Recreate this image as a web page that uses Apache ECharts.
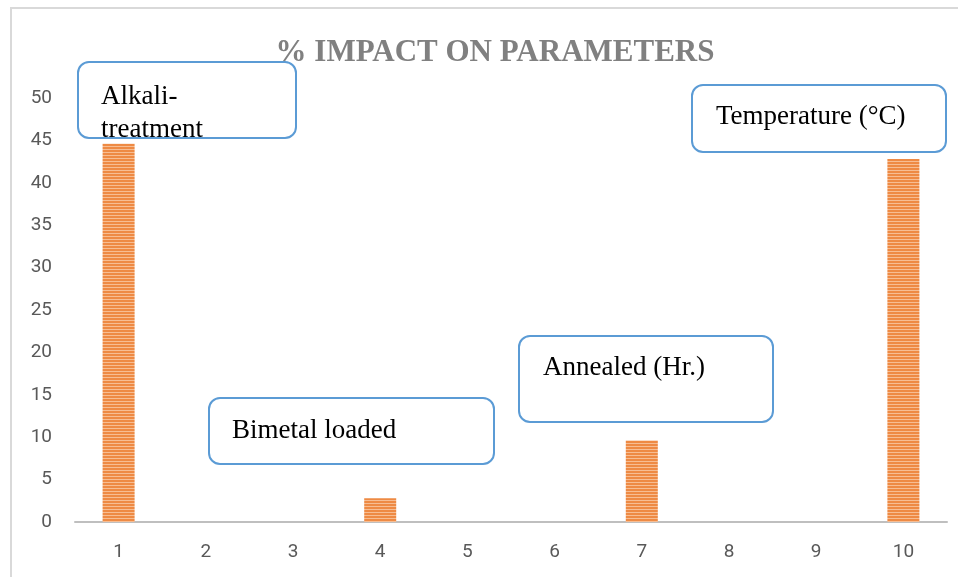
<!DOCTYPE html>
<html>
<head>
<meta charset="utf-8">
<script src="https://cdn.jsdelivr.net/npm/echarts@6/dist/echarts.min.js"></script>
<style>
html,body{margin:0;padding:0;background:#fff;}
#chart{width:958px;height:577px;}
</style>
</head>
<body>
<div id="chart"></div>
<script>
// ---- data ----
const categories = ['1','2','3','4','5','6','7','8','9','10'];
const impactValues = [44.6, 0, 0, 2.8, 0, 0, 9.6, 0, 0, 42.8];
const yTicks = [0, 5, 10, 15, 20, 25, 30, 35, 40, 45, 50];
const titleText = '% IMPACT ON PARAMETERS';
const calloutTexts = ['Alkali-\ntreatment', 'Bimetal loaded', 'Annealed (Hr.)', 'Temperature (°C)'];

// striped orange fill
const pc = document.createElement('canvas');
pc.width = 4; pc.height = 3;
const pctx = pc.getContext('2d');
pctx.fillStyle = '#ee8a44';
pctx.fillRect(0, 0, 4, 3);
pctx.fillStyle = '#f7bd92';
pctx.fillRect(0, 2, 4, 1);

const chart = echarts.init(document.getElementById('chart'), null, {renderer: 'canvas'});

const boxStyle = {fill: '#fff', stroke: '#5b9bd5', lineWidth: 2};
const boxFont = {fontFamily: 'Liberation Serif', fontSize: 27, fill: '#000'};

function callout(x, y, w, h, text, tx, ty) {
  return {
    type: 'group',
    z: 100,
    children: [
      {type: 'rect', shape: {x: x, y: y, width: w, height: h, r: 11}, style: boxStyle},
      {type: 'text', x: tx, y: ty, style: Object.assign({text: text, textVerticalAlign: 'middle'}, boxFont)}
    ]
  };
}

chart.setOption({
  animation: false,
  backgroundColor: '#fff',
  title: {
    text: titleText,
    left: 490,
    textAlign: 'center',
    top: 32,
    textStyle: {fontFamily: 'Liberation Serif', fontWeight: 'bold', fontSize: 31, color: '#808080'}
  },
  grid: {left: 75, right: 11, top: 98, bottom: 55, containLabel: false},
  xAxis: {
    type: 'category',
    data: categories,
    axisLine: {lineStyle: {color: '#bfbfbf', width: 2}},
    axisTick: {show: false},
    axisLabel: {color: '#595959', fontSize: 19, fontFamily: 'Roboto', margin: 21}
  },
  yAxis: {
    type: 'value',
    min: yTicks[0],
    max: yTicks[yTicks.length - 1],
    interval: yTicks[1] - yTicks[0],
    axisLine: {show: false},
    axisTick: {show: false},
    splitLine: {show: false},
    axisLabel: {color: '#595959', fontSize: 19, fontFamily: 'Roboto', margin: 23}
  },
  series: [{
    type: 'bar',
    data: impactValues,
    barWidth: 32,
    itemStyle: {color: {image: pc, repeat: 'repeat'}}
  }],
  graphic: [
    {type: 'rect', z: -10, silent: true, shape: {x: 11, y: 8, width: 1000, height: 700}, style: {fill: 'none', stroke: '#d9d9d9', lineWidth: 2}},
    {
      type: 'group', z: 100,
      children: [
        {type: 'rect', shape: {x: 78, y: 62, width: 218, height: 76, r: 11}, style: boxStyle},
        {type: 'text', x: 101, y: 80, style: Object.assign({text: calloutTexts[0], lineHeight: 33}, boxFont)}
      ]
    },
    callout(209, 398, 285, 66, calloutTexts[1], 232, 431),
    callout(519, 336, 254, 86, calloutTexts[2], 543, 368),
    callout(692, 85, 254, 67, calloutTexts[3], 716, 117)
  ]
});
</script>
</body>
</html>
